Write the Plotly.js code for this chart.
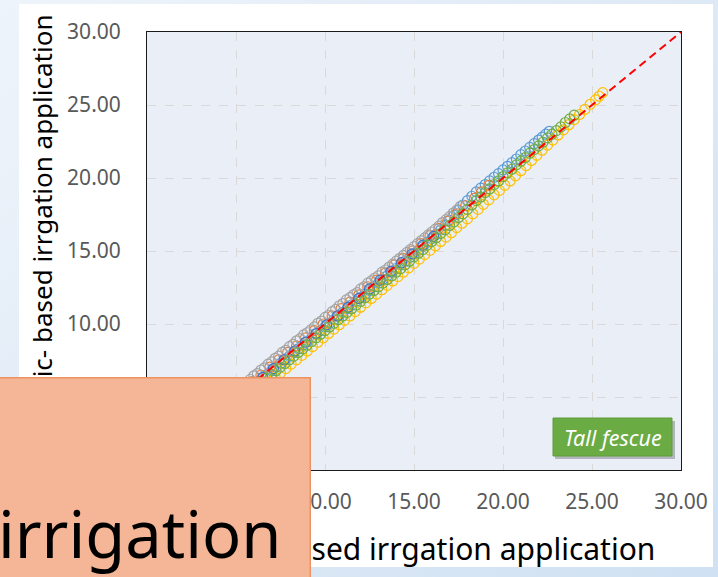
<!DOCTYPE html>
<html>
<head>
<meta charset="utf-8">
<script src="https://cdn.plot.ly/plotly-3.0.1.min.js"></script>
<style>
html,body{margin:0;padding:0;width:718px;height:577px;overflow:hidden;}
body{background:linear-gradient(135deg,#eef4fb 0%,#dfeaf6 50%,#cfe1f3 100%);}
#panel{position:absolute;left:19px;top:4px;width:694px;height:563px;background:#ffffff;z-index:0;}
#chart{position:absolute;left:0;top:0;width:718px;height:577px;z-index:1;}
</style>
</head>
<body>
<div id="panel"></div>
<div id="chart"></div>
<script>
// ---- data ----
const grayX = [1.0,2.0,3.0,4.0,5.0,5.6,5.8,6.0,6.2,6.4,6.6,6.8,7.0,7.2,7.4,7.6,7.8,8.0,8.2,8.4,8.6,8.8,9.0,9.2,9.4,9.6,9.8,10.0,10.2,10.4,10.6,10.8,11.0,11.2,11.4,11.6,11.8,12.0,12.2,12.4,12.6,12.8,13.0,13.2,13.4,13.6,13.8,14.0,14.2,14.4,14.6,14.8,15.0,15.2,15.4,15.6,15.8,16.0,16.2,16.4,16.6,16.8,17.0,17.2,17.4,17.6];
const grayY = [1.2,2.25,3.3,4.35,5.4,6.0,6.2,6.45,6.6,6.85,7.0,7.25,7.4,7.65,7.8,8.05,8.2,8.45,8.6,8.85,9.0,9.25,9.4,9.6,9.8,10.05,10.2,10.45,10.6,10.85,11.0,11.25,11.4,11.65,11.8,12.0,12.15,12.4,12.55,12.8,12.95,13.15,13.3,13.55,13.7,13.9,14.1,14.3,14.5,14.7,14.9,15.1,15.3,15.5,15.7,15.9,16.1,16.3,16.5,16.7,16.95,17.15,17.35,17.6,17.8,18.05];

const orangeX = [0.4,0.9,1.4,1.9,2.4,2.9,3.4,3.9,4.4,4.9,5.4,5.9,6.4,6.9,7.4,7.9,8.4,8.9,9.4,9.9,10.4,10.9,11.4,11.9,12.4,12.9,13.4,13.9,14.4,14.9,15.4,15.9,16.4,16.9,17.4,17.9,18.4,18.8,19.2];
const orangeY = [0.45,0.95,1.5,2.0,2.5,3.0,3.5,4.05,4.55,5.0,5.55,6.05,6.5,7.05,7.55,8.05,8.5,9.05,9.55,10.0,10.55,11.05,11.5,12.0,12.55,13.0,13.5,14.05,14.5,15.0,15.5,16.05,16.55,17.05,17.55,18.1,18.6,19.05,19.5];

const blueX = [1.0,2.0,3.0,4.0,5.0,6.0,6.25,6.5,6.75,7.0,7.25,7.5,7.75,8.0,8.25,8.5,8.75,9.0,9.25,9.5,9.75,10.0,10.25,10.5,10.75,11.0,11.25,11.5,11.75,12.0,12.25,12.5,12.75,13.0,13.25,13.5,13.75,14.0,14.25,14.5,14.75,15.0,15.25,15.5,15.75,16.0,16.25,16.5,16.75,17.0,17.25,17.5,17.75,18.0,18.25,18.5,18.75,19.0,19.25,19.5,19.75,20.0,20.25,20.5,20.75,21.0,21.25,21.5,21.75,22.0,22.2,22.4,22.6];
const blueY = [0.85,1.8,2.8,3.8,4.8,5.8,6.05,6.3,6.55,6.8,7.05,7.3,7.55,7.8,8.05,8.3,8.55,8.8,9.05,9.3,9.55,9.8,10.05,10.3,10.55,10.8,11.05,11.3,11.55,11.8,12.05,12.3,12.55,12.8,13.05,13.3,13.55,13.8,14.05,14.3,14.55,14.8,15.05,15.3,15.6,15.85,16.15,16.45,16.75,17.1,17.45,17.8,18.15,18.45,18.75,19.05,19.3,19.55,19.8,20.05,20.3,20.55,20.8,21.05,21.3,21.6,21.85,22.1,22.35,22.6,22.8,23.0,23.2];

const yellowX = [1.0,2.0,3.0,4.0,5.0,5.7,6.3,6.6,6.9,7.2,7.5,7.8,8.1,8.4,8.7,9.0,9.3,9.6,9.9,10.2,10.5,10.8,11.1,11.4,11.7,12.0,12.3,12.6,12.9,13.2,13.5,13.8,14.1,14.4,14.7,15.0,15.3,15.6,15.9,16.2,16.5,16.8,17.1,17.4,17.7,18.0,18.3,18.6,18.9,19.2,19.5,19.8,20.1,20.4,20.7,21.0,21.3,21.6,21.9,22.2,22.5,22.8,23.1,23.4,23.7,24.0,24.3,24.6,24.9,25.2,25.4,25.6];
const yellowY = [0.8,1.6,2.4,3.3,4.2,4.85,5.45,5.75,6.05,6.35,6.65,6.95,7.25,7.55,7.85,8.15,8.45,8.75,9.05,9.35,9.65,9.95,10.25,10.55,10.85,11.15,11.45,11.75,12.05,12.35,12.65,12.95,13.25,13.55,13.85,14.15,14.45,14.75,15.05,15.35,15.65,15.95,16.25,16.6,16.9,17.2,17.55,17.85,18.2,18.5,18.85,19.15,19.5,19.8,20.15,20.5,20.85,21.2,21.55,21.9,22.25,22.6,22.95,23.3,23.65,24.0,24.35,24.7,25.05,25.35,25.6,25.85];

const navyX = [0.5,1.1,1.7,2.3,2.9,3.5,4.1,4.7,5.3,5.9,6.5,7.1,7.7,8.3,8.9,9.5,10.1,10.7,11.3,11.9,12.5,13.1,13.7,14.3,14.9,15.5,16.1];
const navyY = [0.45,1.0,1.55,2.15,2.75,3.35,3.95,4.55,5.15,5.75,6.35,6.95,7.55,8.15,8.75,9.35,9.95,10.55,11.15,11.75,12.4,13.0,13.6,14.2,14.8,15.4,16.0];

const greenX = [1.0,2.0,3.0,4.0,5.0,6.0,6.25,6.5,6.75,7.0,7.25,7.5,7.75,8.0,8.25,8.5,8.75,9.0,9.25,9.5,9.75,10.0,10.25,10.5,10.75,11.0,11.25,11.5,11.75,12.0,12.25,12.5,12.75,13.0,13.25,13.5,13.75,14.0,14.25,14.5,14.75,15.0,15.25,15.5,15.75,16.0,16.25,16.5,16.75,17.0,17.25,17.5,17.75,18.0,18.25,18.5,18.75,19.0,19.25,19.5,19.75,20.0,20.25,20.5,20.75,21.0,21.25,21.5,21.75,22.0,22.25,22.5,22.75,23.0,23.25,23.5,23.75,24.0];
const greenY = [0.7,1.6,2.6,3.55,4.55,5.55,5.8,6.05,6.3,6.55,6.8,7.05,7.3,7.55,7.8,8.05,8.3,8.55,8.8,9.05,9.3,9.55,9.8,10.05,10.3,10.55,10.8,11.05,11.3,11.55,11.8,12.05,12.3,12.55,12.8,13.05,13.3,13.55,13.8,14.05,14.3,14.6,14.85,15.1,15.4,15.65,15.9,16.2,16.45,16.75,17.0,17.3,17.55,17.85,18.15,18.45,18.7,19.0,19.25,19.55,19.8,20.1,20.35,20.6,20.9,21.15,21.4,21.7,21.95,22.2,22.45,22.75,23.0,23.25,23.5,23.8,24.05,24.3];

const lineX = [0, 30];
const lineY = [0, 30];

const tickVals = [0, 5, 10, 15, 20, 25, 30];
const yTitle = "Climatic- based irrgation application";
const xTitle = "Sensor- based irrgation application";
const overlayText = "irrigation";
const labelText = "Tall fescue";

// ---- chart ----
const FONT = "Noto Sans, Open Sans, sans-serif";
function pts(x, y, color) {
  return {x: x, y: y, type: 'scatter', mode: 'markers', hoverinfo: 'skip', showlegend: false,
    marker: {symbol: 'circle-open', size: 10, color: color, line: {width: 1.2, color: color}}};
}
const traces = [
  pts(blueX, blueY, '#5B9BD5'),
  pts(orangeX, orangeY, '#ED7D31'),
  pts(grayX, grayY, '#A5A5A5'),
  pts(yellowX, yellowY, '#FFC000'),
  pts(navyX, navyY, '#4472C4'),
  pts(greenX, greenY, '#70AD47'),
  {x: lineX, y: lineY, type: 'scatter', mode: 'lines', showlegend: false, hoverinfo: 'skip',
   line: {color: '#FF0000', width: 2, dash: '8px,5px'}}
];

// pixel -> paper helpers (plot area: x 147..681, y 32..470)
const PL = 147, PR = 681, PT = 32, PB = 470;
const px = v => (v - PL) / (PR - PL);
const py = v => (PB - v) / (PB - PT);

const axisCommon = {
  range: [0, 30], tickvals: tickVals, tickformat: '.2f', fixedrange: true,
  showgrid: true, gridcolor: '#D9D9D9', gridwidth: 1, griddash: 'dash',
  zeroline: false, showline: true, linecolor: '#1a1a1a', linewidth: 1, mirror: true,
  ticks: '', tickfont: {family: FONT, size: 21, color: '#595959'}
};

const layout = {
  width: 718, height: 577,
  margin: {l: PL, r: 718 - PR, t: PT, b: 577 - PB, pad: 0},
  paper_bgcolor: 'rgba(0,0,0,0)',
  plot_bgcolor: '#E9EEF7',
  xaxis: Object.assign({}, axisCommon, {ticklabelstandoff: 13}),
  yaxis: Object.assign({}, axisCommon, {ticklabelstandoff: 21}),
  shapes: [
    // label shadow
    {type: 'rect', xref: 'paper', yref: 'paper', x0: px(555), x1: px(675), y0: py(459), y1: py(421),
     fillcolor: 'rgba(80,80,80,0.35)', line: {width: 0}, layer: 'above'},
    {type: 'rect', xref: 'paper', yref: 'paper', x0: px(553), x1: px(672), y0: py(456), y1: py(418),
     fillcolor: '#6AAB44', line: {width: 1, color: '#5E9B3A'}, layer: 'above'}
  ],
  annotations: [
    {xref: 'paper', yref: 'paper', x: px(41), y: py(13), xanchor: 'center', yanchor: 'top',
     text: yTitle, textangle: -90, showarrow: false, font: {family: FONT, size: 26, color: '#000000'}},
    {xref: 'paper', yref: 'paper', x: px(657), y: py(548), xanchor: 'right', yanchor: 'middle',
     text: xTitle, showarrow: false, font: {family: FONT, size: 30, color: '#000000'}},
    {xref: 'paper', yref: 'paper', x: px(612.5), y: py(437), xanchor: 'center', yanchor: 'middle',
     text: '<i>' + labelText + '</i>', showarrow: false, font: {family: FONT, size: 21.5, color: '#FFFFFF'}},
    // overlay box (drawn above the titles)
    {xref: 'paper', yref: 'paper', x: px(-5), y: py(377), xanchor: 'left', yanchor: 'top',
     text: '&nbsp;', showarrow: false, width: 313, height: 212, borderpad: 0,
     bgcolor: '#F5B597', bordercolor: '#EE9260', borderwidth: 1.5, font: {family: FONT, size: 10, color: '#F5B597'}},
    {xref: 'paper', yref: 'paper', x: px(-4), y: py(533), xanchor: 'left', yanchor: 'middle',
     text: overlayText, showarrow: false, font: {family: FONT, size: 65, color: '#000000'}}
  ]
};

Plotly.newPlot('chart', traces, layout, {staticPlot: true, displayModeBar: false});
</script>
</body>
</html>
